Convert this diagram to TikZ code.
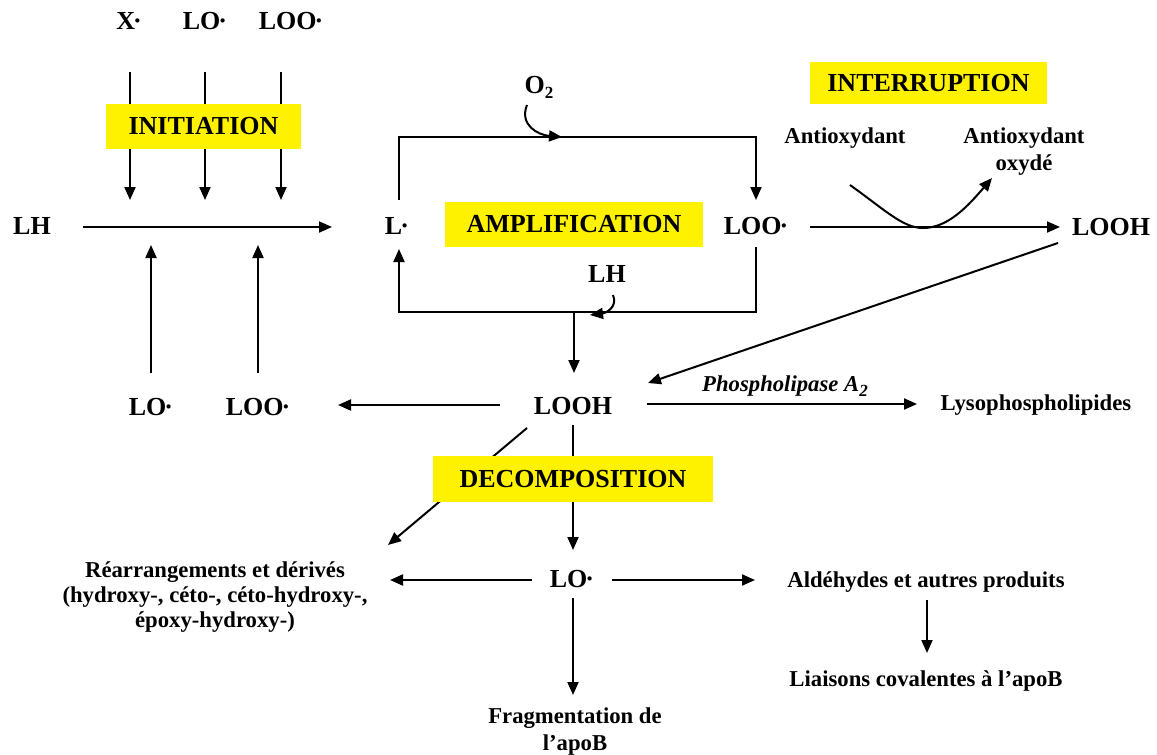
\documentclass[tikz,border=0pt]{standalone}
\usepackage{fontspec}
\setmainfont{Liberation Serif}
\usetikzlibrary{arrows.meta}
\newcommand{\rdot}{\kern-2pt·}
\newcommand{\subtwo}[1]{\raisebox{-5pt}{\fontsize{17}{17}\selectfont #1}}
\begin{document}
\begin{tikzpicture}[x=1pt,y=-1pt,
  lbl/.style={font=\fontsize{26}{30}\selectfont\bfseries, anchor=base, inner sep=0pt},
  sml/.style={font=\fontsize{22.7}{27}\selectfont\bfseries, anchor=base, inner sep=0pt},
  phase/.style={fill=yellow, font=\fontsize{26}{30}\selectfont\bfseries, inner sep=0pt},
  arr/.style={line width=2pt, -{Triangle[length=13pt,width=11pt]}},
  ln/.style={line width=2pt}]
\useasboundingbox (0,0) rectangle (1157,755);
\fill[white] (0,0) rectangle (1157,755);

% ---- text nodes
\node[lbl] (x) at (129,29) {X\rdot};
\node[lbl] (lo1) at (205,29) {LO\rdot};
\node[lbl] (loo1) at (291,29) {LOO\rdot};
\node[lbl] (lh1) at (32,234) {LH};
\node[lbl] (l) at (397,234) {L\rdot};
\node[lbl] (loo) at (756,234) {LOO\rdot};
\node[lbl] (o2) at (539,93) {O\subtwo{2}};
\node[lbl] (lh2) at (607,282) {LH};
\node[sml] (anti) at (845,143) {Antioxydant};
\node[sml] (antiox1) at (1024,143) {Antioxydant};
\node[sml] (antiox2) at (1024,170) {oxydé};
\node[lbl] (looh1) at (1111,235) {LOOH};
\node[lbl] (lo2) at (151,415) {LO\rdot};
\node[lbl] (loo2) at (258,415) {LOO\rdot};
\node[lbl] (looh) at (573,414) {LOOH};
\node[sml, font=\fontsize{22.7}{27}\selectfont\bfseries\itshape] (phos) at (785,391) {Phospholipase A\subtwo{2}};
\node[sml] (lyso) at (1036,410) {Lysophospholipides};
\node[sml] (rea1) at (215,577) {Réarrangements et dérivés};
\node[sml] (rea2) at (215,602) {(hydroxy-, céto-, céto-hydroxy-,};
\node[sml] (rea3) at (215,627) {époxy-hydroxy-)};
\node[lbl] (lo3) at (572,587) {LO\rdot};
\node[sml] (ald) at (926,587) {Aldéhydes et autres produits};
\node[sml] (liai) at (926,686) {Liaisons covalentes à l’apoB};
\node[sml] (frag1) at (575,723) {Fragmentation de};
\node[sml] (frag2) at (575,750) {l’apoB};

% ---- connector end points
\coordinate (xa) at (130,72);   \coordinate (xb) at (130,200);
\coordinate (loa) at (205,72);  \coordinate (lob) at (205,200);
\coordinate (looa) at (281,72); \coordinate (loob) at (281,200);
\coordinate (lhE) at (83,227);  \coordinate (lW) at (332,227);
\coordinate (lo2N) at (151,373);  \coordinate (lo2T) at (151,245);
\coordinate (loo2N) at (258,373); \coordinate (loo2T) at (258,245);
\coordinate (lN) at (399,200);  \coordinate (lS) at (399,249);
\coordinate (looN) at (756,200); \coordinate (looS) at (756,247);
\coordinate (topL) at (399,137); \coordinate (topR) at (756,137);
\coordinate (botL) at (399,312); \coordinate (botR) at (756,312);
\coordinate (botM) at (574,312); \coordinate (loohN) at (574,373);
\coordinate (o2S) at (527,105); \coordinate (o2T) at (562,137);
\coordinate (lh2S) at (613,295); \coordinate (lh2T) at (590,315);
\coordinate (looE) at (810,227); \coordinate (looh1W) at (1060,227);
\coordinate (antiS) at (850,185); \coordinate (antiM) at (923,228); \coordinate (antiT) at (992,178);
\coordinate (looh1S) at (1058,243); \coordinate (loohNE) at (648,383);
\coordinate (loohW) at (500,405); \coordinate (loo2E) at (338,405);
\coordinate (loohE) at (647,404); \coordinate (lysoW) at (917,404);
\coordinate (loohS) at (573,425); \coordinate (lo3N) at (573,550);
\coordinate (loohSW) at (527,428); \coordinate (reaNE) at (388,545);
\coordinate (lo3W) at (532,580); \coordinate (reaE) at (390,580);
\coordinate (lo3E) at (612,580); \coordinate (aldW) at (755,580);
\coordinate (lo3S) at (573,598); \coordinate (fragN) at (573,695);
\coordinate (aldS) at (927,600); \coordinate (liaiN) at (927,653);

% ---- connectors
\draw[arr] (xa) -- (xb);
\draw[arr] (loa) -- (lob);
\draw[arr] (looa) -- (loob);
\draw[arr] (lhE) -- (lW);
\draw[arr] (lo2N) -- (lo2T);
\draw[arr] (loo2N) -- (loo2T);
\draw[arr] (lN) -- (topL) -- (topR) -- (looN);
\draw[arr] (looS) -- (botR) -- (botL) -- (lS);
\draw[arr] (botM) -- (loohN);
\draw[arr] (o2S) .. controls (519,125) and (538,135) .. (o2T);
\draw[arr] (lh2S) .. controls (618,307) and (606,313) .. (lh2T);
\draw[arr] (looE) -- (looh1W);
\draw[ln] (antiS) .. controls (885,210) and (903,228) .. (antiM);
\draw[arr] (antiM) .. controls (948,228) and (968,206) .. (antiT);
\draw[arr] (looh1S) -- (loohNE);
\draw[arr] (loohW) -- (loo2E);
\draw[arr] (loohE) -- (lysoW);
\draw[arr] (loohS) -- (lo3N);
\draw[arr] (loohSW) -- (reaNE);
\draw[arr] (lo3W) -- (reaE);
\draw[arr] (lo3E) -- (aldW);
\draw[arr] (lo3S) -- (fragN);
\draw[arr] (aldS) -- (liaiN);

% ---- phase boxes (on top)
\node[phase, minimum width=195, minimum height=45] (init) at (203.5,126.5) {INITIATION};
\node[phase, minimum width=258, minimum height=45] (ampl) at (574,224.5) {AMPLIFICATION};
\node[phase, minimum width=237, minimum height=42] (interr) at (928.5,83) {INTERRUPTION};
\node[phase, minimum width=280, minimum height=46] (decomp) at (573,479) {DECOMPOSITION};
\end{tikzpicture}
\end{document}
